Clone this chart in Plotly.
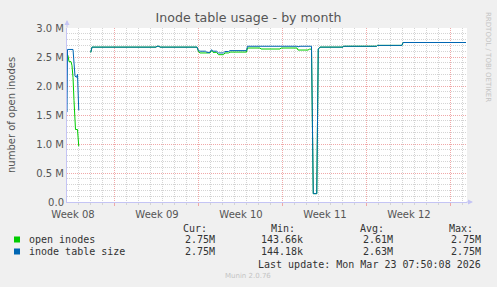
import plotly.graph_objects as go

# ---------------- data ----------------
open_times = [
    "2026-02-18 02:00", "2026-02-18 04:00", "2026-02-18 06:00", "2026-02-18 10:00",
    "2026-02-18 12:00", "2026-02-18 14:00", "2026-02-18 16:00", "2026-02-18 18:30",
    "2026-02-18 19:00", "2026-02-18 23:00", "2026-02-19 01:30", "2026-02-19 12:00",
    "2026-02-20 01:30", "2026-02-20 04:00", "2026-02-25 12:00", "2026-02-25 14:00",
    "2026-02-25 18:00", "2026-02-25 20:00", "2026-02-28 22:00", "2026-03-01 01:00",
    "2026-03-01 04:00", "2026-03-02 00:00", "2026-03-02 03:00", "2026-03-02 06:00",
    "2026-03-02 13:00", "2026-03-02 17:00", "2026-03-03 03:00", "2026-03-03 06:00",
    "2026-03-03 13:00", "2026-03-03 16:00", "2026-03-05 01:00", "2026-03-05 03:00",
    "2026-03-06 04:00", "2026-03-06 06:00", "2026-03-07 20:00", "2026-03-07 22:00",
    "2026-03-09 06:00", "2026-03-09 08:00", "2026-03-10 04:00", "2026-03-10 07:00",
    "2026-03-10 11:00", "2026-03-10 14:30", "2026-03-10 21:30", "2026-03-11 00:30",
    "2026-03-11 04:00", "2026-03-13 02:00", "2026-03-13 03:00", "2026-03-13 12:00",
    "2026-03-13 13:00", "2026-03-14 08:00", "2026-03-14 09:00", "2026-03-15 04:00",
    "2026-03-15 05:00", "2026-03-15 18:00", "2026-03-15 19:00", "2026-03-15 21:00",
    "2026-03-15 23:00", "2026-03-18 00:00", "2026-03-18 02:00", "2026-03-23 08:00",
]
open_inodes = [  # millions
    2.56, 2.52, 2.42, 2.42,
    2.35, 2.15, 1.75, 1.30,
    1.25, 1.25, 0.96, None,
    2.58, 2.67, 2.67, 2.685,
    2.685, 2.67, 2.67, 2.59,
    2.57, 2.57, 2.61, 2.58,
    2.58, 2.54, 2.54, 2.57,
    2.57, 2.585, 2.585, 2.655,
    2.655, 2.638, 2.638, 2.655,
    2.655, 2.62, 2.62, 2.635,
    2.635, 0.1437, 0.1437, 2.63,
    2.67, 2.67, 2.685, 2.685,
    2.675, 2.675, 2.685, 2.685,
    2.675, 2.675, 2.685, 2.685,
    2.70, 2.70, 2.75, 2.75,
]

size_times = [
    "2026-02-18 02:00", "2026-02-18 03:00", "2026-02-18 14:00", "2026-02-18 18:00",
    "2026-02-18 21:00", "2026-02-18 23:00", "2026-02-19 01:30", "2026-02-19 12:00",
    "2026-02-20 01:30", "2026-02-20 04:00", "2026-02-25 12:00", "2026-02-25 14:00",
    "2026-02-25 18:00", "2026-02-25 20:00", "2026-02-28 22:00", "2026-03-01 01:00",
    "2026-03-01 04:00", "2026-03-01 15:00", "2026-03-01 18:00", "2026-03-02 00:00",
    "2026-03-02 03:00", "2026-03-02 06:00", "2026-03-02 13:00", "2026-03-02 17:00",
    "2026-03-03 03:00", "2026-03-03 06:00", "2026-03-03 13:00", "2026-03-03 16:00",
    "2026-03-05 01:00", "2026-03-05 03:00", "2026-03-09 06:00", "2026-03-09 08:00",
    "2026-03-09 12:00", "2026-03-10 11:00", "2026-03-10 14:30", "2026-03-10 21:30",
    "2026-03-11 00:30", "2026-03-11 04:00", "2026-03-13 02:00", "2026-03-13 03:00",
    "2026-03-15 21:00", "2026-03-15 23:00", "2026-03-18 00:00", "2026-03-18 02:00",
    "2026-03-23 08:00",
]
table_size = [  # millions
    1.55, 2.63, 2.63, 2.17,
    2.15, 2.20, 1.58, None,
    2.58, 2.67, 2.67, 2.685,
    2.685, 2.67, 2.67, 2.61,
    2.60, 2.60, 2.58, 2.58,
    2.625, 2.60, 2.60, 2.57,
    2.57, 2.595, 2.595, 2.61,
    2.61, 2.685, 2.685, 2.675,
    2.685, 2.685, 0.1442, 0.1442,
    2.64, 2.67, 2.67, 2.685,
    2.685, 2.70, 2.70, 2.75,
    2.75,
]

week_label_times = ["2026-02-18 14:00", "2026-02-25 14:00", "2026-03-04 14:00",
                    "2026-03-11 14:00", "2026-03-18 14:00"]
week_labels = ["Week 08", "Week 09", "Week 10", "Week 11", "Week 12"]

y_tickvals = [0, 0.5, 1.0, 1.5, 2.0, 2.5, 3.0]
y_ticktext = ["0.0", "0.5 M", "1.0 M", "1.5 M", "2.0 M", "2.5 M", "3.0 M"]

series_names = ["open inodes", "inode table size"]
series_colors = ["#00CC00", "#0066B3"]
stat_cur = ["2.75M", "2.75M"]
stat_min = ["143.66k", "144.18k"]
stat_avg = ["2.61M", "2.63M"]
stat_max = ["2.75M", "2.75M"]

# ---------------- layout geometry ----------------
W, H = 497, 287
L, R, T, B = 67, 30, 28, 85
PW, PH = W - L - R, H - T - B


def px(x):
    return (x - L) / PW


def py(y):
    return (H - B - y) / PH


GRID = "#d4d4d4"
MGRID = "#f0a8a8"
AXIS = "#c4c4f4"
TXT = "#555555"
LEG = "#333333"

fig = go.Figure()
fig.add_trace(go.Scatter(x=open_times, y=open_inodes, mode="lines",
                         line=dict(color=series_colors[0], width=1),
                         connectgaps=False, showlegend=False))
fig.add_trace(go.Scatter(x=size_times, y=table_size, mode="lines",
                         line=dict(color=series_colors[1], width=1),
                         connectgaps=False, showlegend=False))
fig.add_trace(go.Scatter(x=[], y=[], xaxis="x2", showlegend=False, hoverinfo="skip"))

xr = ["2026-02-18 02:00", "2026-03-23 10:00"]

fig.update_layout(
    width=W, height=H,
    margin=dict(l=L, r=R, t=T, b=B, pad=0),
    paper_bgcolor="#F0F0F0", plot_bgcolor="#FFFFFF",
    font=dict(family="DejaVu Sans", color=TXT, size=10),
    title=dict(text="Inode table usage - by month", x=0.5, xanchor="center",
               y=1 - 17.5 / H, yanchor="middle",
               font=dict(family="DejaVu Sans", size=12.6, color=TXT)),
    xaxis=dict(type="date", range=xr, showticklabels=False,
               tick0="2026-02-22", dtick=7 * 86400000,
               showgrid=True, gridcolor=MGRID, griddash="1px,1px", gridwidth=1,
               ticks="outside", ticklen=3, tickcolor=MGRID,
               minor=dict(dtick=86400000, tick0="2026-02-22", showgrid=True,
                          gridcolor=GRID, griddash="1px,1px", gridwidth=1,
                          ticks="outside", ticklen=2, tickcolor=GRID),
               showline=True, linecolor=AXIS, linewidth=1, zeroline=False,
               fixedrange=True),
    xaxis2=dict(type="date", range=xr, overlaying="x", anchor="y", side="bottom",
                tickvals=week_label_times, ticktext=week_labels,
                showgrid=False, ticks="outside", ticklen=3, tickcolor="rgba(0,0,0,0)",
                showline=False, zeroline=False,
                tickfont=dict(size=10, color=TXT, family="DejaVu Sans")),
    yaxis=dict(range=[0, 3.0], tickvals=y_tickvals, ticktext=y_ticktext,
               showgrid=True, gridcolor=MGRID, griddash="1px,1px", gridwidth=1,
               ticks="", 
               minor=dict(dtick=0.1, showgrid=True, gridcolor=GRID,
                          griddash="1px,1px", gridwidth=1),
               tickfont=dict(size=10, color=TXT, family="DejaVu Sans"),
               showline=True, linecolor=AXIS, linewidth=1, zeroline=False),
)

ann = []
# y-axis title
ann.append(dict(x=px(11), y=py(115), xref="paper", yref="paper", text="number of open inodes",
                textangle=-90, showarrow=False, xanchor="center", yanchor="middle",
                font=dict(size=10, color=TXT, family="DejaVu Sans")))
# watermark
ann.append(dict(x=px(488), y=py(57), xref="paper", yref="paper", text="RRDTOOL / TOBI OETIKER",
                textangle=90, showarrow=False, xanchor="center", yanchor="middle",
                font=dict(size=7, color="#c4c4c4", family="DejaVu Sans")))
# axis arrows
ann.append(dict(x=px(67), y=py(20), xref="paper", yref="paper", text="", showarrow=True,
                ax=0, ay=9, arrowhead=2, arrowsize=1, arrowwidth=1, arrowcolor=AXIS))
ann.append(dict(x=px(473), y=py(202), xref="paper", yref="paper", text="", showarrow=True,
                ax=-8, ay=0, arrowhead=2, arrowsize=1, arrowwidth=1, arrowcolor=AXIS))

mono = dict(family="DejaVu Sans Mono", size=10, color=LEG)
for txt, x0 in zip(["Cur:", "Min:", "Avg:", "Max:"], [181, 269, 358, 447]):
    ann.append(dict(x=px(x0), y=py(228.5), xref="paper", yref="paper", text=txt,
                    showarrow=False, xanchor="left", yanchor="middle", font=mono))
row_y = [239.5, 251.5]
for i in range(2):
    ann.append(dict(x=px(26.5), y=py(row_y[i]), xref="paper", yref="paper",
                    text=series_names[i], showarrow=False, xanchor="left",
                    yanchor="middle", font=mono))
    for txt, xr_ in zip([stat_cur[i], stat_min[i], stat_avg[i], stat_max[i]],
                        [217, 305, 395, 483]):
        ann.append(dict(x=px(xr_), y=py(row_y[i]), xref="paper", yref="paper", text=txt,
                        showarrow=False, xanchor="right", yanchor="middle", font=mono))
ann.append(dict(x=px(483), y=py(264), xref="paper", yref="paper",
                text="Last update: Mon Mar 23 07:50:08 2026", showarrow=False,
                xanchor="right", yanchor="middle", font=mono))
ann.append(dict(x=px(248), y=py(276), xref="paper", yref="paper", text="Munin 2.0.76",
                showarrow=False, xanchor="center", yanchor="middle",
                font=dict(family="DejaVu Sans", size=7, color="#c4c4c4")))
fig.update_layout(annotations=ann)

shapes = []
for i in range(2):
    shapes.append(dict(type="rect", xref="paper", yref="paper",
                       x0=px(14), x1=px(20), y0=py(row_y[i] + 3), y1=py(row_y[i] - 3),
                       fillcolor=series_colors[i], line=dict(width=0)))
fig.update_layout(shapes=shapes)

fig.write_html("out.html")
